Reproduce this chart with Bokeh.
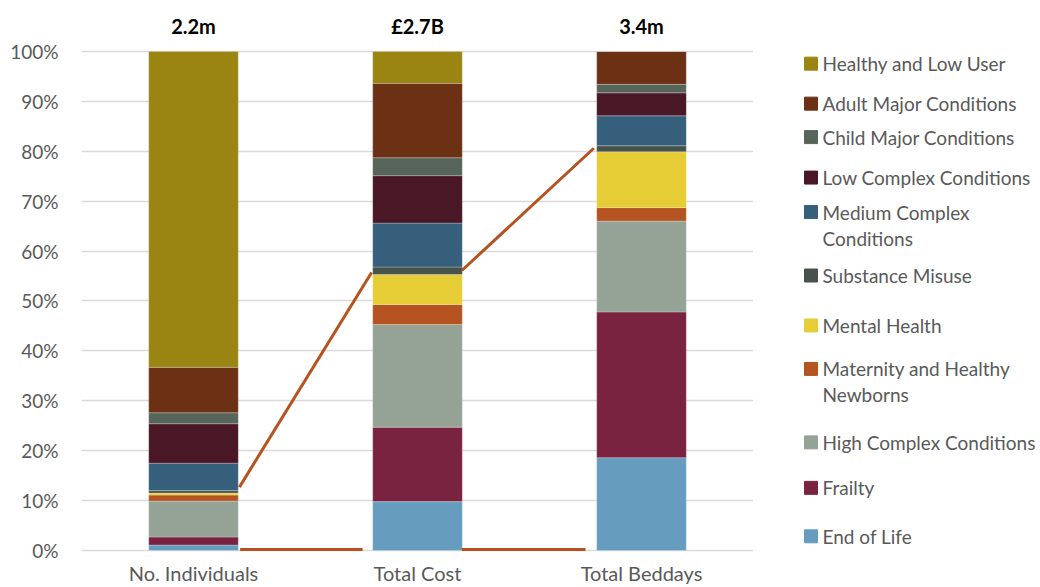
from bokeh.plotting import figure
from bokeh.models import ColumnDataSource, FixedTicker, PrintfTickFormatter, Range1d
from bokeh.layouts import row
from bokeh.embed import file_html
from bokeh.resources import INLINE
from bokeh.core.properties import value

# ---------------- data ----------------
categories = ["No. Individuals", "Total Cost", "Total Beddays"]
totals = ["2.2m", "£2.7B", "3.4m"]

# stacking order, bottom to top
segments = [
    "End of Life", "Frailty", "High Complex Conditions",
    "Maternity and Healthy Newborns", "Mental Health", "Substance Misuse",
    "Medium Complex Conditions", "Low Complex Conditions",
    "Child Major Conditions", "Adult Major Conditions", "Healthy and Low User",
]
end_of_life = [1.1, 9.8, 18.6]
frailty = [1.6, 14.9, 29.2]
high_complex = [7.2, 20.6, 18.2]
maternity = [1.2, 4.0, 2.7]
mental_health = [0.4, 6.0, 11.2]
substance_misuse = [0.5, 1.5, 1.2]
medium_complex = [5.5, 8.8, 6.0]
low_complex = [7.9, 9.5, 4.6]
child_major = [2.2, 3.6, 1.7]
adult_major = [9.1, 14.9, 6.6]
healthy_low = [63.3, 6.4, 0.0]

# connector lines (percent at right edge of one bar -> left edge of next bar)
link_from = [12.7, 56.1]
link_to = [55.7, 80.6]
base_link = [0.2, 0.2]

series_values = [end_of_life, frailty, high_complex, maternity, mental_health,
                 substance_misuse, medium_complex, low_complex, child_major,
                 adult_major, healthy_low]
colors = ["#669CBD", "#7A2341", "#94A396", "#B55321", "#E6CD35", "#46524A",
          "#365F7B", "#4A1727", "#56645A", "#6C3115", "#9A8412"]

# legend (top to bottom)
legend_labels = [
    "Healthy and Low User", "Adult  Major Conditions", "Child  Major Conditions",
    "Low Complex  Conditions", "Medium Complex\nConditions", "Substance Misuse",
    "Mental Health", "Maternity and Healthy\nNewborns", "High Complex Conditions",
    "Frailty", "End of Life",
]
legend_colors = colors[::-1]

FONT = "Lato"
GREY = "#595959"

# ---------------- main chart ----------------
keys = ["s%d" % i for i in range(len(segments))]
data = {"x": list(range(len(categories)))}
for k, v in zip(keys, series_values):
    data[k] = v
src = ColumnDataSource(data)

p = figure(width=753, height=587, x_range=Range1d(-0.5, 2.5), y_range=Range1d(-0.6, 108),
           output_backend="svg", toolbar_location=None,
           min_border_left=81, min_border_right=0, min_border_top=11, min_border_bottom=32)
p.outline_line_color = None
p.background_fill_color = "white"
p.border_fill_color = "white"

p.vbar_stack(keys, x="x", width=0.4, color=colors, line_color="white",
             line_alpha=0.35, line_width=0.7, source=src)

# connector lines
xs = data["x"]
p.segment(x0=[xs[0] + 0.205, xs[1] + 0.198], y0=link_from,
          x1=[xs[1] - 0.205, xs[2] - 0.213], y1=link_to,
          line_color="#B5521F", line_width=3)
p.segment(x0=[xs[0] + 0.208, xs[1] + 0.198], y0=base_link,
          x1=[xs[1] - 0.245, xs[2] - 0.25], y1=base_link,
          line_color="#B5521F", line_width=3)

# totals above the bars
p.text(x=xs, y=[105] * 3, text=totals, text_align="center", text_baseline="middle",
       text_font=value(FONT), text_font_style="bold", text_font_size="20px",
       text_color="#000000")

# axes
p.yaxis.ticker = FixedTicker(ticks=list(range(0, 101, 10)))
p.yaxis.formatter = PrintfTickFormatter(format="%d%%")
p.yaxis.axis_line_color = None
p.yaxis.major_tick_line_color = None
p.yaxis.minor_tick_line_color = None
p.yaxis.major_label_standoff = 17
p.yaxis.major_label_text_font = FONT
p.yaxis.major_label_text_font_size = "19px"
p.yaxis.major_label_text_color = GREY

p.xaxis.ticker = FixedTicker(ticks=xs)
p.xaxis.major_label_overrides = {i: c for i, c in enumerate(categories)}
p.xaxis.axis_line_color = None
p.xaxis.major_tick_line_color = None
p.xaxis.minor_tick_line_color = None
p.xaxis.major_label_standoff = 1
p.xaxis.major_label_text_font = FONT
p.xaxis.major_label_text_font_size = "20px"
p.xaxis.major_label_text_color = GREY

p.xgrid.grid_line_color = None
p.ygrid.grid_line_color = "#D9D9D9"
p.ygrid.grid_line_width = 1.5

# ---------------- legend panel ----------------
# the row aligns this panel's frame with the chart's frame, so the y range spans
# the frame's pixel rows (screen coordinates)
lg = figure(width=287, height=587, x_range=Range1d(0, 287), y_range=Range1d(553.7, 11.3),
            output_backend="svg", toolbar_location=None,
            min_border_left=0, min_border_right=0, min_border_top=11, min_border_bottom=32)
lg.axis.visible = False
lg.grid.visible = False
lg.outline_line_color = None

legend_y = [63.5, 103.5, 137, 177.5, 212, 275.5, 325.5, 369, 442.5, 488, 536.5]
lg.rect(x=[57.5] * len(legend_labels), y=legend_y, width=13, height=13,
        color=legend_colors)
tx, ty, tt = [], [], []
for lab, yy in zip(legend_labels, legend_y):
    for j, line in enumerate(lab.split("\n")):
        tx.append(69)
        ty.append(yy + 26 * j)
        tt.append(line)
lg.text(x=tx, y=ty, text=tt, text_align="left", text_baseline="middle",
        text_font=value(FONT), text_font_size="19px", text_color=GREY)

layout = row(p, lg)
open("out.html", "w").write(file_html(layout, INLINE))
